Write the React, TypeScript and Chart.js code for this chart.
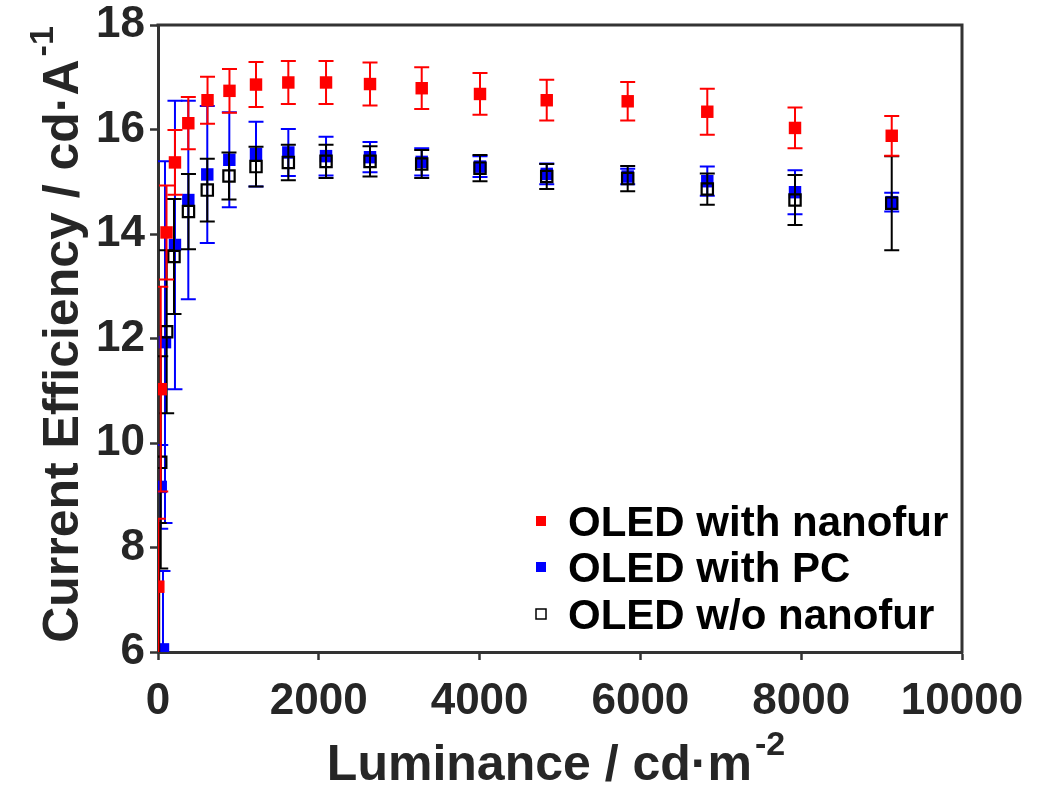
import React, { useEffect, useRef } from 'react';
import { Chart, registerables } from 'chart.js';

Chart.register(...registerables);

// ---- data ----
const xTickValues = [0, 2000, 4000, 6000, 8000, 10000];
const yTickValues = [6, 8, 10, 12, 14, 16, 18];
const seriesNames = ['OLED with nanofur', 'OLED with PC', 'OLED w/o nanofur'];

const nanofurX = [4, 34, 106, 211, 377, 616, 889, 1219, 1621, 2090, 2637, 3280, 4005, 4835, 5842, 6832, 7923, 9126];
const nanofurY = [7.25, 11.03, 14.03, 15.37, 16.12, 16.56, 16.74, 16.86, 16.9, 16.9, 16.87, 16.79, 16.68, 16.56, 16.54, 16.34, 16.03, 15.88];
const nanofurErr = [1.3, 1.96, 0.9, 0.62, 0.5, 0.45, 0.42, 0.43, 0.41, 0.41, 0.41, 0.4, 0.4, 0.39, 0.37, 0.44, 0.39, 0.38];

const pcX = [62, 34, 87, 211, 377, 613, 887, 1219, 1621, 2090, 2637, 3280, 4005, 4835, 5842, 6832, 7923, 9126];
const pcY = [6.05, 9.16, 11.93, 13.79, 14.65, 15.14, 15.42, 15.53, 15.56, 15.49, 15.47, 15.38, 15.29, 15.15, 15.1, 15.01, 14.8, 14.61];
const pcErr = [1.5, 0.8, 3.46, 2.76, 1.9, 1.31, 0.91, 0.62, 0.45, 0.37, 0.29, 0.26, 0.2, 0.2, 0.15, 0.28, 0.42, 0.18];

const woX = [15, 34, 108, 199, 379, 613, 883, 1219, 1621, 2090, 2637, 3280, 4005, 4835, 5842, 6832, 7923, 9126];
const woY = [5.6, 9.63, 12.13, 13.57, 14.43, 14.84, 15.11, 15.29, 15.37, 15.39, 15.39, 15.34, 15.26, 15.1, 15.06, 14.86, 14.65, 14.59];
const woErr = [2.87, 2.03, 1.56, 1.1, 0.72, 0.6, 0.45, 0.38, 0.34, 0.32, 0.29, 0.27, 0.25, 0.24, 0.24, 0.3, 0.48, 0.9];

const xTitle = 'Luminance / cd·m';
const xTitleSup = '-2';
const yTitle = 'Current Efficiency / cd·A';
const yTitleSup = '-1';

const seriesColors = ['#ff0000', '#0000ff', '#000000'];
const errorArrays = [nanofurErr, pcErr, woErr];

const FONT = '"Liberation Sans", Arial, sans-serif';
const TEXT = '#262626';
const AXIS = '#333333';

const toPoints = (xs: number[], ys: number[]) => xs.map((x, i) => ({ x, y: ys[i] }));

const errorBarPlugin = {
  id: 'errorBars',
  beforeDatasetDraw(chart: any, args: any) {
    const idx = args.index;
    const errs = errorArrays[idx];
    const ds = chart.data.datasets[idx];
    const xs = chart.scales.x;
    const ys = chart.scales.y;
    const ctx = chart.ctx;
    const a = chart.chartArea;
    ctx.save();
    ctx.beginPath();
    ctx.rect(a.left, a.top, a.right - a.left, a.bottom - a.top);
    ctx.clip();
    ctx.strokeStyle = seriesColors[idx];
    ctx.lineWidth = 2;
    ds.data.forEach((p: any, i: number) => {
      const e = errs[i];
      const px = xs.getPixelForValue(p.x);
      const top = ys.getPixelForValue(p.y + e);
      const bot = ys.getPixelForValue(p.y - e);
      ctx.beginPath();
      ctx.moveTo(px, top);
      ctx.lineTo(px, bot);
      ctx.moveTo(px - 7.5, top);
      ctx.lineTo(px + 7.5, top);
      ctx.moveTo(px - 7.5, bot);
      ctx.lineTo(px + 7.5, bot);
      ctx.stroke();
    });
    ctx.restore();
  },
};

const decorPlugin = {
  id: 'decor',
  afterDraw(chart: any) {
    const ctx = chart.ctx;
    const a = chart.chartArea;
    ctx.save();
    // top and right box lines
    ctx.strokeStyle = AXIS;
    ctx.lineWidth = 3;
    ctx.beginPath();
    ctx.moveTo(a.left - 1.5, a.top);
    ctx.lineTo(a.right, a.top);
    ctx.lineTo(a.right, a.bottom + 1.5);
    ctx.stroke();

    ctx.fillStyle = TEXT;
    ctx.textBaseline = 'alphabetic';
    ctx.textAlign = 'left';
    const mainFont = `bold 50px ${FONT}`;
    const supFont = `bold 34px ${FONT}`;

    // x title
    ctx.font = mainFont;
    const w1 = ctx.measureText(xTitle).width;
    ctx.font = supFont;
    const w2 = ctx.measureText(xTitleSup).width;
    const cx = (a.left + a.right) / 2 - 4;
    const startX = cx - (w1 + w2 + 3) / 2;
    const baseX = 780;
    ctx.font = mainFont;
    ctx.fillText(xTitle, startX, baseX);
    ctx.font = supFont;
    ctx.fillText(xTitleSup, startX + w1 + 3, baseX - 25);

    // y title
    ctx.save();
    const cy = (a.top + a.bottom) / 2 - 4;
    ctx.translate(78, cy);
    ctx.rotate(-Math.PI / 2);
    ctx.font = mainFont;
    const v1 = ctx.measureText(yTitle).width;
    ctx.font = supFont;
    const v2 = ctx.measureText(yTitleSup).width;
    const sy = -(v1 + v2 + 3) / 2;
    ctx.font = mainFont;
    ctx.fillText(yTitle, sy, 0);
    ctx.font = supFont;
    ctx.fillText(yTitleSup, sy + v1 + 3, -25);
    ctx.restore();

    // legend
    const rows = [521, 567, 614];
    ctx.font = `bold 42px ${FONT}`;
    seriesNames.forEach((name, i) => {
      const y = rows[i];
      if (i < 2) {
        ctx.fillStyle = seriesColors[i];
        ctx.fillRect(536, y - 5, 10, 10);
      } else {
        ctx.strokeStyle = '#000';
        ctx.lineWidth = 1.5;
        ctx.strokeRect(536, y - 5, 10, 10);
      }
      ctx.fillStyle = '#000';
      ctx.fillText(name, 568, y + 15);
    });
    ctx.restore();
  },
};

export default function App() {
  const canvasRef = useRef<HTMLCanvasElement | null>(null);

  useEffect(() => {
    if (!canvasRef.current) return;
    const chart = new Chart(canvasRef.current, {
      type: 'scatter',
      data: {
        datasets: [
          {
            label: seriesNames[0],
            data: toPoints(nanofurX, nanofurY),
            pointStyle: 'rect',
            pointRadius: 8.8,
            backgroundColor: seriesColors[0],
            borderColor: seriesColors[0],
            borderWidth: 0,
            order: 0,
          },
          {
            label: seriesNames[1],
            data: toPoints(pcX, pcY),
            pointStyle: 'rect',
            pointRadius: 8.8,
            backgroundColor: seriesColors[1],
            borderColor: seriesColors[1],
            borderWidth: 0,
            order: 2,
          },
          {
            label: seriesNames[2],
            data: toPoints(woX, woY),
            pointStyle: 'rect',
            pointRadius: 8,
            backgroundColor: 'rgba(0,0,0,0)',
            borderColor: seriesColors[2],
            borderWidth: 2.2,
            order: 1,
          },
        ],
      },
      options: {
        animation: false,
        responsive: true,
        maintainAspectRatio: false,
        layout: { padding: { left: 0, top: 25, right: 75, bottom: 0 } },
        plugins: {
          legend: { display: false },
          tooltip: { enabled: false },
        },
        scales: {
          x: {
            type: 'linear',
            min: 0,
            max: 10000,
            afterBuildTicks: (s: any) => {
              s.ticks = xTickValues.map((v) => ({ value: v }));
            },
            afterFit: (s: any) => {
              s.height = 140;
              s.paddingLeft = 0;
              s.paddingRight = 0;
            },
            grid: {
              drawOnChartArea: false,
              drawTicks: true,
              tickLength: 8,
              tickWidth: 2.5,
              tickColor: AXIS,
            },
            border: { display: true, color: AXIS, width: 3 },
            ticks: {
              color: TEXT,
              font: { family: FONT, size: 44, weight: 'bold' },
              padding: 15,
              maxRotation: 0,
              autoSkip: false,
              callback: (v: any) => String(v),
            },
          },
          y: {
            type: 'linear',
            min: 6,
            max: 18,
            afterBuildTicks: (s: any) => {
              s.ticks = yTickValues.map((v) => ({ value: v }));
            },
            afterFit: (s: any) => {
              s.width = 158;
              s.paddingTop = 0;
              s.paddingBottom = 0;
            },
            grid: {
              drawOnChartArea: false,
              drawTicks: true,
              tickLength: 8,
              tickWidth: 2.5,
              tickColor: AXIS,
            },
            border: { display: true, color: AXIS, width: 3 },
            ticks: {
              color: TEXT,
              font: { family: FONT, size: 44, weight: 'bold' },
              padding: 5,
              autoSkip: false,
              callback: (v: any) => String(v),
            },
          },
        },
      },
      plugins: [errorBarPlugin, decorPlugin],
    });
    return () => chart.destroy();
  }, []);

  return (
    <div style={{ position: 'absolute', left: 0, top: 0, width: 1037, height: 792, background: '#fff' }}>
      <canvas ref={canvasRef} />
    </div>
  );
}
